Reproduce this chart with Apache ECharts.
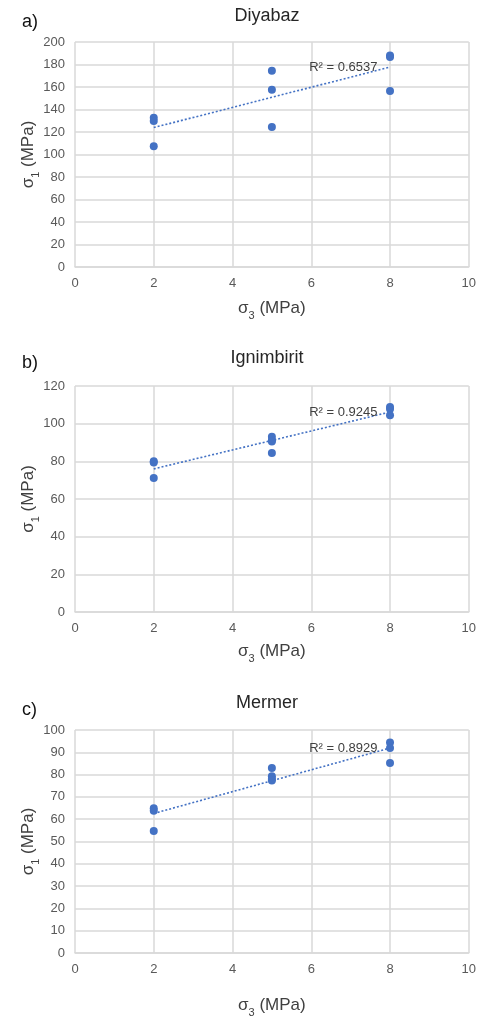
<!DOCTYPE html>
<html><head><meta charset="utf-8">
<script src="https://cdn.jsdelivr.net/npm/echarts@6/dist/echarts.min.js"></script>
<style>html,body{margin:0;padding:0;background:#fff}#c{width:479px;height:1019px}</style>
</head><body><div id="c"></div>
<script>
// ---- data ----
const panelLetters = ['a)', 'b)', 'c)'];
const rockNames = ['Diyabaz', 'Ignimbirit', 'Mermer'];
const r2Texts = ['R² = 0.6537', 'R² = 0.9245', 'R² = 0.8929'];
const xTicks = [0, 2, 4, 6, 8, 10];
const yMaxes = [200, 120, 100];
const yIntervals = [20, 20, 10];
const diyabazPoints = [[2,132.7],[2,129.8],[2,107.3],[5,174.5],[5,157.6],[5,124.4],[8,188.1],[8,186.7],[8,156.4]];
const ignimbiritPoints = [[2,80.0],[2,79.4],[2,71.2],[5,93.0],[5,91.2],[5,90.5],[5,84.4],[8,108.9],[8,107.8],[8,104.5]];
const mermerPoints = [[2,64.9],[2,63.8],[2,54.7],[5,83.0],[5,79.3],[5,78.0],[5,77.3],[8,94.4],[8,91.9],[8,85.2]];
const allPoints = [diyabazPoints, ignimbiritPoints, mermerPoints];

// ---- layout ----
const grids = [
  {left: 75, right: 9, top: 42, height: 225},
  {left: 75, right: 9, top: 386, height: 226},
  {left: 75, right: 9, top: 730, height: 226}
];
const titleTops = [2, 344, 689];
const letterTops = [8, 349, 696];
const xNameGaps = [30, 28, 41];
const blue = '#4472C4';
const font = '"Liberation Sans", Arial, sans-serif';

function fit(pts) {
  const n = pts.length;
  let sx = 0, sy = 0, sxx = 0, sxy = 0;
  pts.forEach(p => { sx += p[0]; sy += p[1]; sxx += p[0]*p[0]; sxy += p[0]*p[1]; });
  const b = (n*sxy - sx*sy) / (n*sxx - sx*sx);
  const a = (sy - b*sx) / n;
  const xs = pts.map(p => p[0]);
  const x0 = Math.min(...xs), x1 = Math.max(...xs);
  return [[x0, a + b*x0], [x1, a + b*x1]];
}

const nameRich = {
  a: {fontFamily: font, fontSize: 17, color: '#404040', lineHeight: 20, verticalAlign: 'bottom'},
  s: {fontFamily: font, fontSize: 11, color: '#404040', lineHeight: 14, verticalAlign: 'bottom', padding: [0,0,-4,0]}
};
const titles = [], xAxes = [], yAxes = [], series = [];
for (let i = 0; i < 3; i++) {
  titles.push({text: rockNames[i], left: 262, top: titleTops[i], textAlign: 'center',
    textStyle: {fontFamily: font, fontSize: 18, fontWeight: 'normal', color: '#262626'}});
  titles.push({text: panelLetters[i], left: 17, top: letterTops[i],
    textStyle: {fontFamily: font, fontSize: 18, fontWeight: 'normal', color: '#111'}});
  xAxes.push({gridIndex: i, type: 'value', min: 0, max: 10, interval: 2,
    name: '{a|σ}{s|3}{a| (MPa)}', nameLocation: 'middle', nameGap: xNameGaps[i],
    nameMoveOverlap: false,
    nameTextStyle: {rich: nameRich},
    axisLine: {show: true, lineStyle: {color: '#d9d9d9', width: 1.5}},
    axisTick: {show: false},
    axisLabel: {fontFamily: font, fontSize: 13, color: '#595959', margin: 10},
    splitLine: {show: true, lineStyle: {color: '#d9d9d9', width: 1.5}}});
  yAxes.push({gridIndex: i, type: 'value', min: 0, max: yMaxes[i], interval: yIntervals[i],
    name: '{a|σ}{s|1}{a| (MPa)}', nameLocation: 'middle', nameGap: 38, nameRotate: 90,
    nameMoveOverlap: false,
    nameTextStyle: {rich: nameRich},
    axisLine: {show: false}, axisTick: {show: false},
    axisLabel: {fontFamily: font, fontSize: 13, color: '#595959', margin: 10},
    splitLine: {show: true, lineStyle: {color: '#d9d9d9', width: 1.5}}});
  const tl = fit(allPoints[i]);
  series.push({type: 'line', xAxisIndex: i, yAxisIndex: i, z: 2,
    data: [tl[0], {value: tl[1], label: {show: true, position: 'left', distance: 12,
      formatter: r2Texts[i], fontFamily: font, fontSize: 13, color: '#404040'}}],
    symbol: 'circle', symbolSize: 1, itemStyle: {color: 'rgba(0,0,0,0)'},
    lineStyle: {color: blue, width: 1.6, type: [2, 2]}, silent: true, animation: false});
  series.push({type: 'scatter', xAxisIndex: i, yAxisIndex: i, z: 3,
    data: allPoints[i], symbol: 'circle', symbolSize: 8, itemStyle: {color: blue, opacity: 1}, animation: false});
}

const chart = echarts.init(document.getElementById('c'), null, {renderer: 'canvas'});
chart.setOption({backgroundColor: '#fff', animation: false, title: titles, grid: grids,
  xAxis: xAxes, yAxis: yAxes, series: series});
</script></body></html>
